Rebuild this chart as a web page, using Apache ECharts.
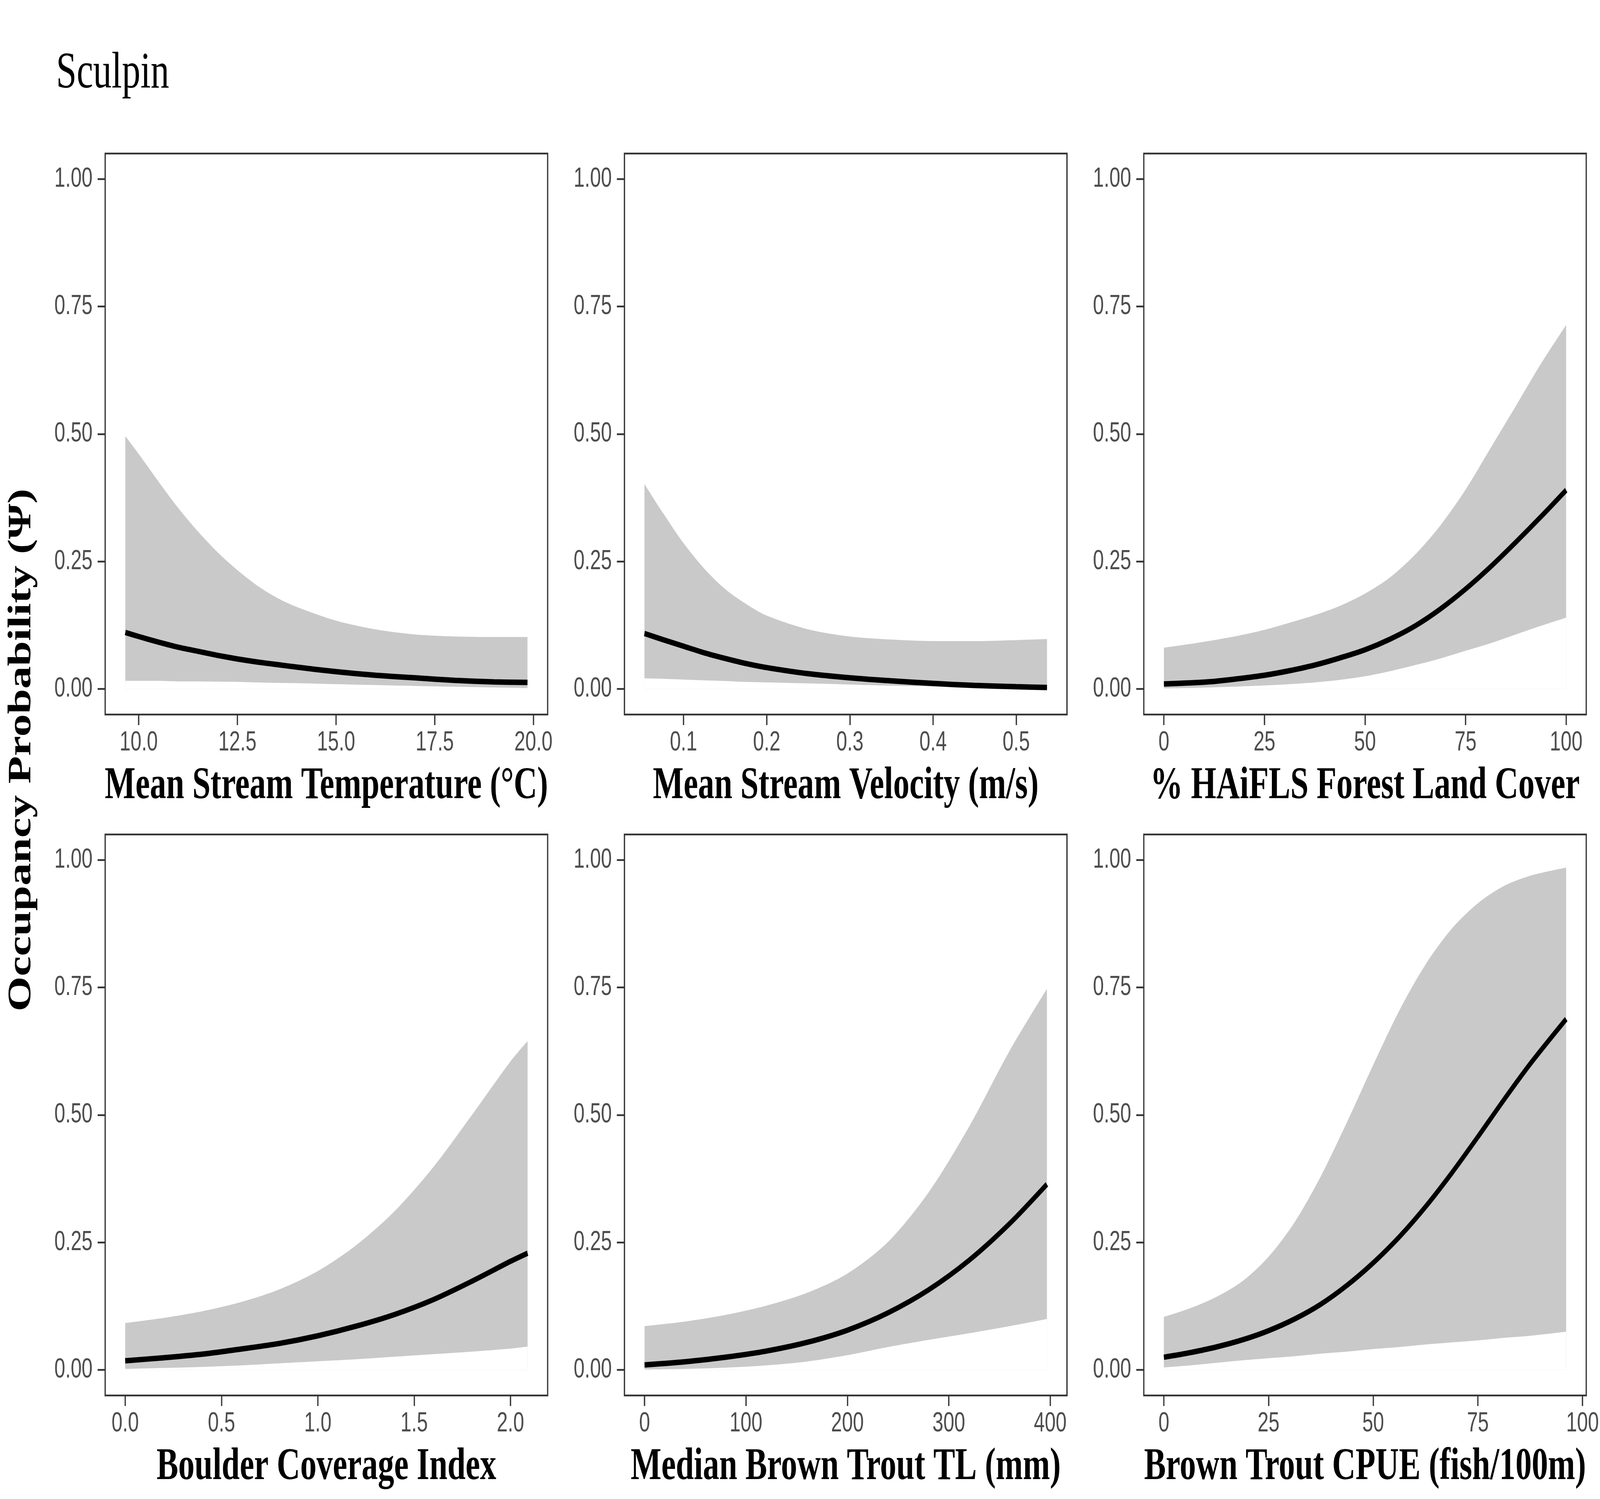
<!DOCTYPE html>
<html>
<head>
<meta charset="utf-8">
<script src="https://cdn.jsdelivr.net/npm/echarts@6/dist/echarts.min.js"></script>
<style>
html, body { margin: 0; padding: 0; background: #fff; overflow: hidden; }
#chart { width: 5706px; height: 3837px; transform-origin: 0 0; }
</style>
</head>
<body>
<div id="chart"></div>
<script>
// Sculpin occupancy (psi) vs each covariate: fitted line + 95% band

const yTicks = [0, 0.25, 0.5, 0.75, 1];

// Mean stream temperature (C)
const tempX = [9.66, 10, 10.5, 11, 11.5, 12, 12.5, 13, 13.5, 14, 15, 16, 17, 18, 19, 19.85];
const tempFit = [0.111, 0.103, 0.092, 0.082, 0.074, 0.066, 0.059, 0.053, 0.048, 0.043, 0.034, 0.027, 0.022, 0.017, 0.014, 0.013];
const tempLow = [0.016, 0.016, 0.016, 0.015, 0.015, 0.0145, 0.014, 0.013, 0.012, 0.0115, 0.0096, 0.0078, 0.006, 0.0045, 0.003, 0.002];
const tempHigh = [0.496, 0.461, 0.407, 0.355, 0.309, 0.268, 0.233, 0.203, 0.179, 0.161, 0.134, 0.117, 0.107, 0.103, 0.102, 0.102];
const tempTicks = [10, 12.5, 15, 17.5, 20];

// Mean stream velocity (m/s)
const velX = [0.053, 0.075, 0.1, 0.125, 0.15, 0.175, 0.2, 0.25, 0.3, 0.35, 0.4, 0.45, 0.5, 0.537];
const velFit = [0.109, 0.097, 0.084, 0.071, 0.060, 0.050, 0.042, 0.030, 0.022, 0.016, 0.011, 0.007, 0.0045, 0.003];
const velLow = [0.021, 0.020, 0.0185, 0.017, 0.0157, 0.014, 0.013, 0.011, 0.0088, 0.0065, 0.005, 0.003, 0.002, 0.001];
const velHigh = [0.402, 0.346, 0.286, 0.236, 0.196, 0.167, 0.144, 0.117, 0.103, 0.097, 0.094, 0.094, 0.096, 0.098];
const velTicks = [0.1, 0.2, 0.3, 0.4, 0.5];

// % HAiFLS forest land cover
const forX = [0, 6.25, 12.5, 18.75, 25, 31.25, 37.5, 43.75, 50, 56.25, 62.5, 68.75, 75, 81.25, 87.5, 93.75, 100];
const forFit = [0.010, 0.012, 0.015, 0.0205, 0.027, 0.036, 0.047, 0.061, 0.077, 0.098, 0.124, 0.157, 0.196, 0.240, 0.288, 0.338, 0.390];
const forLow = [0.0014, 0.002, 0.0035, 0.005, 0.007, 0.0095, 0.013, 0.018, 0.025, 0.035, 0.047, 0.060, 0.075, 0.090, 0.107, 0.124, 0.140];
const forHigh = [0.081, 0.088, 0.096, 0.105, 0.116, 0.130, 0.145, 0.163, 0.187, 0.219, 0.264, 0.321, 0.391, 0.473, 0.555, 0.638, 0.714];
const forTicks = [0, 25, 50, 75, 100];

// Boulder coverage index
const bouX = [0, 0.2, 0.4, 0.6, 0.8, 1.0, 1.2, 1.4, 1.6, 1.8, 2.0, 2.089];
const bouFit = [0.018, 0.024, 0.031, 0.041, 0.052, 0.067, 0.086, 0.109, 0.138, 0.174, 0.213, 0.229];
const bouLow = [0.002, 0.004, 0.006, 0.009, 0.013, 0.017, 0.021, 0.026, 0.031, 0.036, 0.042, 0.046];
const bouHigh = [0.092, 0.102, 0.115, 0.133, 0.158, 0.194, 0.245, 0.312, 0.398, 0.500, 0.605, 0.645];
const bouTicks = [0, 0.5, 1, 1.5, 2];

// Median brown trout TL (mm)
const tlX = [0, 40, 80, 120, 160, 200, 240, 280, 320, 360, 396.7];
const tlFit = [0.010, 0.016, 0.025, 0.037, 0.054, 0.078, 0.112, 0.157, 0.215, 0.287, 0.364];
const tlLow = [0.001, 0.002, 0.0046, 0.009, 0.0165, 0.029, 0.045, 0.059, 0.072, 0.086, 0.100];
const tlHigh = [0.086, 0.095, 0.108, 0.126, 0.151, 0.189, 0.251, 0.348, 0.477, 0.626, 0.747];
const tlTicks = [0, 100, 200, 300, 400];

// Brown trout CPUE (fish/100m)
const cpueX = [0, 6.25, 12.5, 18.75, 25, 31.25, 37.5, 43.75, 50, 56.25, 62.5, 68.75, 75, 81.25, 87.5, 96.1];
const cpueFit = [0.025, 0.034, 0.045, 0.059, 0.077, 0.100, 0.129, 0.166, 0.210, 0.261, 0.320, 0.386, 0.457, 0.530, 0.600, 0.688];
const cpueLow = [0.005, 0.009, 0.014, 0.019, 0.023, 0.027, 0.032, 0.036, 0.041, 0.045, 0.050, 0.054, 0.058, 0.063, 0.067, 0.075];
const cpueHigh = [0.104, 0.121, 0.143, 0.174, 0.222, 0.290, 0.380, 0.486, 0.598, 0.705, 0.795, 0.865, 0.915, 0.949, 0.969, 0.985];
const cpueTicks = [0, 25, 50, 75, 100];

const panels = [
  { x: tempX, fit: tempFit, low: tempLow, high: tempHigh, ticks: tempTicks, digits: 1, min: 9.15, max: 20.36, title: 'Mean Stream Temperature (°C)' },
  { x: velX, fit: velFit, low: velLow, high: velHigh, ticks: velTicks, digits: 1, min: 0.029, max: 0.561, title: 'Mean Stream Velocity (m/s)' },
  { x: forX, fit: forFit, low: forLow, high: forHigh, ticks: forTicks, digits: 0, min: -5, max: 105, title: '% HAiFLS Forest Land Cover' },
  { x: bouX, fit: bouFit, low: bouLow, high: bouHigh, ticks: bouTicks, digits: 1, min: -0.104, max: 2.193, title: 'Boulder Coverage Index' },
  { x: tlX, fit: tlFit, low: tlLow, high: tlHigh, ticks: tlTicks, digits: 0, min: -19.8, max: 416.5, title: 'Median Brown Trout TL (mm)' },
  { x: cpueX, fit: cpueFit, low: cpueLow, high: cpueHigh, ticks: cpueTicks, digits: 0, min: -4.8, max: 100.9, title: 'Brown Trout CPUE (fish/100m)' }
];

const SERIF = '"Liberation Serif", "Times New Roman", serif';
const SANS = '"Liberation Sans", Arial, sans-serif';
const INK = '#333333';
const BAND = '#C9C9C9';

const colLeft = [375, 2227, 4079];
const rowTop = [393, 2136];
const panelW = 1578;
const panelH = 1436;

// the page is laid out at 5706 x 3837; squeeze it into the real window if that differs
const el = document.getElementById('chart');
const vw = window.innerWidth, vh = window.innerHeight;
if (vw && vh && (Math.abs(vw - 5706) > 1 || Math.abs(vh - 3837) > 1)) {
  el.style.transform = 'scale(' + (vw / 5706) + ',' + (vh / 3837) + ')';
}

const grids = [], xAxes = [], yAxes = [], series = [];

panels.forEach((p, i) => {
  const col = i % 3, row = Math.floor(i / 3);
  grids.push({
    left: colLeft[col], top: rowTop[row], width: panelW, height: panelH,
    show: true, borderColor: INK, borderWidth: 4.5, backgroundColor: 'transparent'
  });
  xAxes.push({
    type: 'value', gridIndex: i, min: p.min, max: p.max,
    name: p.title, nameLocation: 'middle', nameGap: 184,
    nameTextStyle: { fontFamily: SERIF, fontWeight: 'bold', fontSize: 116, color: '#000', verticalAlign: 'middle' },
    axisLine: { show: false, onZero: false },
    splitLine: { show: false },
    axisTick: { show: true, customValues: p.ticks, length: 27, lineStyle: { color: INK, width: 4.5 } },
    axisLabel: {
      customValues: p.ticks, margin: 38,
      fontFamily: SANS, fontSize: 70, color: '#4D4D4D',
      formatter: v => Number(v).toFixed(p.digits)
    }
  });
  yAxes.push({
    type: 'value', gridIndex: i, min: -0.05, max: 1.05,
    axisLine: { show: false, onZero: false },
    splitLine: { show: false },
    axisTick: { show: true, customValues: yTicks, length: 27, lineStyle: { color: INK, width: 4.5 } },
    axisLabel: {
      customValues: yTicks, margin: 45,
      fontFamily: SANS, fontSize: 70, color: '#4D4D4D',
      formatter: v => Number(v).toFixed(2)
    }
  });
  const common = { type: 'line', xAxisIndex: i, yAxisIndex: i, symbol: 'none', smooth: 0.3, silent: true };
  // upper limit filled grey down to 0, lower limit filled white down to 0 -> grey ribbon between
  series.push(Object.assign({}, common, {
    data: p.x.map((v, k) => [v, p.high[k]]),
    lineStyle: { opacity: 0 },
    areaStyle: { color: BAND, opacity: 1, origin: 0 },
    z: 2
  }));
  series.push(Object.assign({}, common, {
    data: p.x.map((v, k) => [v, p.low[k]]),
    lineStyle: { opacity: 0 },
    areaStyle: { color: '#FFFFFF', opacity: 1, origin: 0 },
    z: 3
  }));
  series.push(Object.assign({}, common, {
    data: p.x.map((v, k) => [v, p.fit[k]]),
    lineStyle: { color: '#000', width: 14 },
    z: 5
  }));
});

const chart = echarts.init(el, null, { renderer: 'canvas' });
chart.setOption({
  animation: false,
  backgroundColor: '#fff',
  title: {
    text: 'Sculpin', left: 195, top: 118,
    textStyle: { fontFamily: SERIF, fontWeight: 'normal', fontSize: 132, color: '#000' }
  },
  graphic: [{
    type: 'text', x: 78, y: 1920, rotation: Math.PI / 2,
    style: {
      text: 'Occupancy Probability (Ψ)',
      fontFamily: SERIF, fontWeight: 'bold', fontSize: 116, fill: '#000',
      align: 'center', verticalAlign: 'middle',
      textAlign: 'center', textVerticalAlign: 'middle'
    }
  }],
  grid: grids,
  xAxis: xAxes,
  yAxis: yAxes,
  series: series
});
</script>
</body>
</html>
